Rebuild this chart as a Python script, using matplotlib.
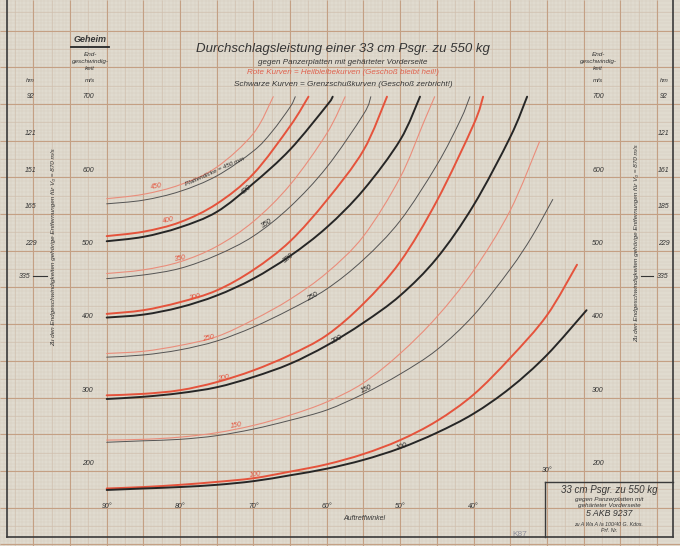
import numpy as np
import matplotlib
matplotlib.use("Agg")
import matplotlib.pyplot as plt
from matplotlib import transforms
from matplotlib.path import Path
from matplotlib.patches import PathPatch

W, H = 680, 546

# Auftreffwinkel (deg) / Endgeschwindigkeit (m/s)
# r = Heilbleibekurven (red), b = Grenzschusskurven (black)
r450_a = [90, 85, 80, 75, 70, 67.3]
r450_v = [561, 567, 580, 604, 650, 700]
b450_a = [90, 85, 80, 75, 70, 67.5, 65, 64.3]
b450_v = [554, 559, 571, 592, 626, 652, 686, 700]
r400_a = [90, 85, 80, 75, 70, 65, 62.5]
r400_v = [510, 516, 529, 554, 595, 660, 700]
b400_a = [90, 85, 80, 75, 70, 65, 60, 59.2]
b400_v = [503, 509, 522, 543, 582, 628, 688, 700]
r350_a = [90, 85, 80, 75, 70, 65, 60, 57.5]
r350_v = [459, 464, 475, 496, 530, 580, 650, 700]
b350_a = [90, 85, 80, 75, 70, 65, 60, 55, 54]
b350_v = [452, 457, 466, 484, 510, 550, 604, 676, 700]
r300_a = [90, 85, 80, 75, 70, 65, 60, 55, 51.8]
r300_v = [404, 409, 420, 436, 464, 503, 559, 627, 700]
b300_a = [90, 85, 80, 75, 70, 65, 60, 55, 50, 47.3]
b300_v = [399, 403, 413, 429, 452, 483, 522, 573, 641, 700]
r250_a = [90, 85, 80, 75, 70, 65, 60, 55, 50, 46.8, 45.3]
r250_v = [350, 353, 361, 373, 396, 424, 460, 510, 590, 665, 700]
b250_a = [90, 85, 80, 75, 70, 65, 60, 55, 50, 45, 41.8, 40.5]
b250_v = [345, 348, 355, 367, 386, 410, 438, 478, 531, 607, 668, 700]
r200_a = [90, 85, 80, 75, 70, 65, 60, 55, 50, 45, 40, 38.7]
r200_v = [293, 295, 300, 311, 327, 348, 375, 418, 475, 558, 662, 700]
b200_a = [90, 85, 80, 75, 70, 65, 60, 55, 50, 45, 40, 35, 32.7]
b200_v = [288, 291, 296, 304, 318, 336, 361, 392, 429, 480, 552, 645, 700]
r150_a = [90, 85, 80, 75, 70, 65, 60, 55, 50, 45, 40, 35, 31]
r150_v = [232, 233, 236, 242, 252, 266, 284, 310, 350, 400, 463, 545, 639]
b150_a = [90, 85, 80, 75, 70, 65, 60, 55, 50, 45, 40, 35, 32, 29.2]
b150_v = [229, 231, 233, 238, 247, 259, 273, 295, 322, 355, 402, 465, 510, 560]
r100_a = [90, 85, 80, 75, 70, 65, 60, 55, 50, 45, 40, 35, 30, 25.9]
r100_v = [166, 168, 171, 175, 180, 189, 199, 213, 232, 258, 294, 344, 402, 471]
b100_a = [90, 85, 80, 75, 70, 65, 60, 55, 50, 45, 40, 35, 30, 24.6]
b100_v = [164, 166, 168, 171, 176, 184, 193, 205, 221, 242, 268, 303, 348, 409]

# curve labels: text, angle, speed, rotation
red_labels = [("450", 83.2, 577, 10), ("400", 81.6, 532, 12), ("350", 80, 480, 10),
              ("300", 78, 427, 12), ("250", 76.2, 371, 12), ("200", 74.1, 316, 12),
              ("150", 72.3, 252, 10), ("100", 69.8, 184.5, 8)]
black_labels = [("Plattendicke = 450 mm", 75.2, 598, 24), ("400", 70.9, 573, 40),
                ("350", 68.2, 527, 33), ("300", 65.2, 480, 38), ("250", 62, 427, 28),
                ("200", 58.7, 368, 28), ("150", 54.6, 302, 25), ("100", 49.8, 223, 18)]

speed_ticks = [700, 600, 500, 400, 300, 200]
hm_pos = [700, 650, 600, 550, 500]
hm_left = ["92", "121", "151", "165", "229"]
hm_right = ["92", "121", "161", "185", "229"]
angle_ticks = [90, 80, 70, 60, 50, 40]

RED = "#e5533c"
RED_THIN = "#ea8d7b"
BLACK = "#262626"
BLACK_THIN = "#545454"
TXT = "#353535"
PAPER = "#e0dbcf"

plt.rcParams['font.family'] = ['Liberation Sans', 'DejaVu Sans']

fig = plt.figure(figsize=(W / 100, H / 100), dpi=100)
fig.patch.set_facecolor(PAPER)
ax = fig.add_axes([0, 0, 1, 1])
ax.set_facecolor(PAPER)
# 90 deg at x=106.7 px, 7.337 px per degree; 700 m/s at y=96.7 px, 0.7337 px per m/s
ax.set_xlim(90 + 106.7 / 7.337, 90 - (W - 106.7) / 7.337)
ax.set_ylim(700 - (H - 96.7) / 0.7337, 700 + 96.7 / 0.7337)
ax.axis("off")
x0, x1 = ax.get_xlim()
y0, y1 = ax.get_ylim()

# millimetre paper
for step, col, lw in [(0.5, "#d5c9bc", 0.3), (2.5, "#d0bdab", 0.4), (5, "#c4a084", 0.8)]:
    xs = np.arange(15, 105, step)
    ys = np.arange(90, 835, step * 10)
    ax.vlines(xs, y0, y1, colors=col, lw=lw, zorder=1)
    ax.hlines(ys, x1, x0, colors=col, lw=lw, zorder=1)


def draw_curve(a, v, color, lw):
    # smooth Bezier path through the read points
    p = np.column_stack([a, v]).astype(float)
    verts = [p[0]]
    codes = [Path.MOVETO]
    n = len(p)
    for i in range(n - 1):
        p0 = p[i - 1] if i > 0 else p[i]
        p3 = p[i + 2] if i + 2 < n else p[i + 1]
        verts += [p[i] + (p[i + 1] - p0) / 6, p[i + 1] - (p3 - p[i]) / 6, p[i + 1]]
        codes += [Path.CURVE4] * 3
    ax.add_patch(PathPatch(Path(verts, codes), fill=False, edgecolor=color, lw=lw,
                           capstyle="round", zorder=3))


curves = [
    (r450_a, r450_v, RED_THIN, 0.8), (b450_a, b450_v, BLACK_THIN, 0.7),
    (r400_a, r400_v, RED, 1.4), (b400_a, b400_v, BLACK, 1.4),
    (r350_a, r350_v, RED_THIN, 0.8), (b350_a, b350_v, BLACK_THIN, 0.7),
    (r300_a, r300_v, RED, 1.4), (b300_a, b300_v, BLACK, 1.4),
    (r250_a, r250_v, RED_THIN, 0.8), (b250_a, b250_v, BLACK_THIN, 0.7),
    (r200_a, r200_v, RED, 1.4), (b200_a, b200_v, BLACK, 1.4),
    (r150_a, r150_v, RED_THIN, 0.8), (b150_a, b150_v, BLACK_THIN, 0.7),
    (r100_a, r100_v, RED, 1.4), (b100_a, b100_v, BLACK, 1.4),
]
for a, v, c, lw in curves:
    draw_curve(a, v, c, lw)

for t, a, v, r in red_labels:
    ax.text(a, v, t, color=RED, fontsize=5, style="italic", rotation=r,
            ha="center", va="center", zorder=4)
for t, a, v, r in black_labels:
    ax.text(a, v, t, color=BLACK, fontsize=5 if len(t) < 5 else 4.6, style="italic",
            rotation=r, ha="center", va="center", zorder=4)

# axis labels
fx_y = transforms.blended_transform_factory(fig.transFigure, ax.transData)
d_fy = transforms.blended_transform_factory(ax.transData, fig.transFigure)
small = dict(fontsize=5, style="italic", color=TXT, ha="center", va="center")

for v in speed_ticks:
    ax.text(88 / W, v, str(v), transform=fx_y, **small)
    ax.text(598 / W, v, str(v), transform=fx_y, **small)
for v, tl, tr in zip(hm_pos, hm_left, hm_right):
    ax.text(31 / W, v, tl, transform=fx_y, **small)
    ax.text(664 / W, v, tr, transform=fx_y, **small)
v335 = 700 - (276 - 96.7) / 0.7337
ax.text(25 / W, v335, "335", transform=fx_y, **small)
ax.plot([33 / W, 47 / W], [v335, v335], transform=fx_y, color=TXT, lw=0.8)
ax.text(663 / W, v335, "335", transform=fx_y, **small)
ax.plot([641 / W, 653 / W], [v335, v335], transform=fx_y, color=TXT, lw=0.8)

for a in angle_ticks:
    ax.text(a, 1 - 507 / H, f"{a}°", transform=d_fy, **small)
ax.text(30, 1 - 470 / H, "30°", transform=d_fy, **small)


def ftext(x, y, s, **kw):
    opts = dict(style="italic", color=TXT, ha="center", va="center")
    opts.update(kw)
    fig.text(x / W, 1 - y / H, s, **opts)


def fline(xs, ys, **kw):
    fig.add_artist(plt.Line2D([x / W for x in xs], [1 - y / H for y in ys], **kw))


ftext(364, 519, "Auftreffwinkel", fontsize=5)

# headers
ftext(90, 40, "Geheim", fontsize=6.5, weight="bold")
fline([71, 109], [47, 47], color=BLACK, lw=1.3)
for x in (90, 598):
    ftext(x, 55, "End-", fontsize=4.6)
    ftext(x, 61.5, "geschwindig-", fontsize=4.6)
    ftext(x, 68, "keit", fontsize=4.6)
    ftext(x, 81, "m/s", fontsize=4.6)
ftext(30, 81, "hm", fontsize=4.6)
ftext(664, 81, "hm", fontsize=4.6)

side = "Zu den Endgeschwindigkeiten gehörige Entfernungen für V₀ = 870 m/s"
ftext(54, 247, side, fontsize=4.6, rotation=90)
ftext(637, 243, side, fontsize=4.6, rotation=90)

ftext(343, 49, "Durchschlagsleistung einer 33 cm Psgr. zu 550 kg", fontsize=9.5)
ftext(343, 63, "gegen Panzerplatten mit gehärteter Vorderseite", fontsize=5.8)
ftext(343, 73, "Rote Kurven = Heilbleibekurven (Geschoß bleibt heil!)", fontsize=5.8, color="#e0604c")
ftext(343, 84, "Schwarze Kurven = Grenzschußkurven (Geschoß zerbricht!)", fontsize=5.9)

# frame and title block
fline([7, 7], [0, 537], color="#3a3a3a", lw=1.2)
fline([673, 673], [0, 537], color="#3a3a3a", lw=1.2)
fline([7, 673], [537, 537], color="#3a3a3a", lw=1.2)
fline([545, 673], [482, 482], color="#3a3a3a", lw=1.0)
fline([545, 545], [482, 537], color="#3a3a3a", lw=1.0)
ftext(609, 490, "33 cm Psgr. zu 550 kg", fontsize=7)
ftext(609, 499, "gegen Panzerplatten mit", fontsize=4.6)
ftext(609, 505.5, "gehärteter Vorderseite", fontsize=4.6)
ftext(609, 514, "5 AKB 9237", fontsize=6.3)
ftext(609, 524, "zu A Wa A Ia 100/40 G. Kdos.", fontsize=3.8)
ftext(609, 531, "Prf. Nr.", fontsize=3.8)
ftext(520, 535, "K87", fontsize=6, color="#8c8c98", style="normal")

fig.savefig("out.png", dpi=100, facecolor=fig.get_facecolor())
